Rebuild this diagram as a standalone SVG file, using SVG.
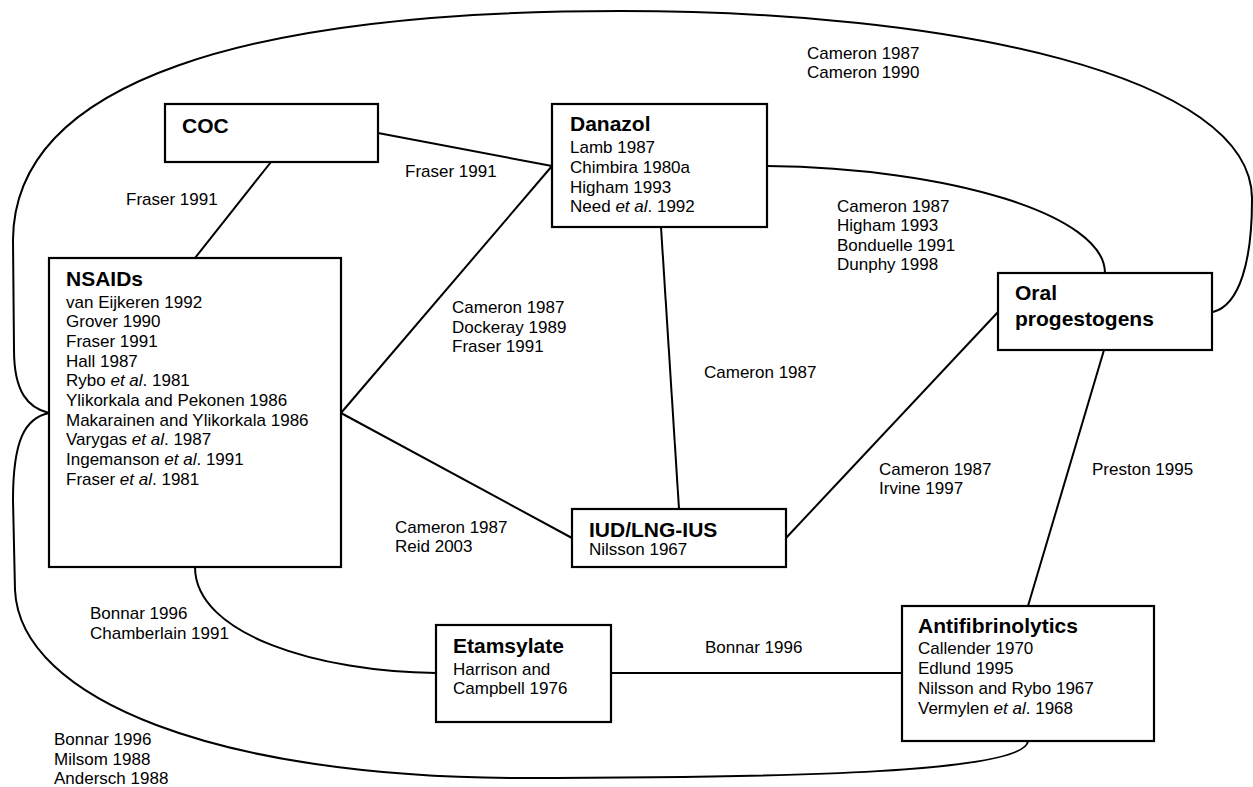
<svg xmlns="http://www.w3.org/2000/svg" width="1253" height="787" viewBox="0 0 1253 787">
<style>
.box{fill:#fff;stroke:#000;stroke-width:2.2}
.ln{fill:none;stroke:#000;stroke-width:2}
text{font-family:"Liberation Sans",Arial,sans-serif;fill:#000}
.h{font-size:21px;font-weight:bold}
.t{font-size:17px}
.i{font-style:italic}
</style>
<rect width="1253" height="787" fill="#fff"/>
<g id="connectors">
<path class="ln" d="M49,413 C28,408 14,392 14,350 L13,240 C14,80 250,11 620,11 C950,11 1254,75 1252,200 C1252,260 1240,305 1213,312"/>
<path class="ln" d="M49,413 C25,418 13,440 13,500 L15,590 C20,700 220,778 520,778 C800,778 1025,772 1028,741"/>
<line class="ln" x1="271" y1="162" x2="195" y2="258"/>
<line class="ln" x1="378" y1="133" x2="552" y2="166"/>
<line class="ln" x1="341" y1="413" x2="552" y2="166"/>
<line class="ln" x1="341" y1="413" x2="572" y2="538"/>
<line class="ln" x1="661" y1="227" x2="679" y2="509"/>
<path class="ln" d="M767,166 C950,168 1105,215 1105,273"/>
<line class="ln" x1="786" y1="538" x2="998" y2="312"/>
<line class="ln" x1="1104" y1="350" x2="1028" y2="606"/>
<line class="ln" x1="611" y1="673" x2="902" y2="673"/>
<path class="ln" d="M195,567 C195,635 320,672 436,673"/>
</g>
<g id="edge-labels" class="t">
<text x="126" y="205">Fraser 1991</text>
<text x="405" y="177">Fraser 1991</text>
<text x="807" y="59">Cameron 1987</text>
<text x="807" y="78">Cameron 1990</text>
<text x="837" y="212">Cameron 1987</text>
<text x="837" y="231">Higham 1993</text>
<text x="837" y="251">Bonduelle 1991</text>
<text x="837" y="270">Dunphy 1998</text>
<text x="452" y="313">Cameron 1987</text>
<text x="452" y="333">Dockeray 1989</text>
<text x="452" y="352">Fraser 1991</text>
<text x="704" y="378">Cameron 1987</text>
<text x="879" y="475">Cameron 1987</text>
<text x="879" y="494">Irvine 1997</text>
<text x="1092" y="475">Preston 1995</text>
<text x="395" y="533">Cameron 1987</text>
<text x="395" y="552">Reid 2003</text>
<text x="90" y="619">Bonnar 1996</text>
<text x="90" y="639">Chamberlain 1991</text>
<text x="705" y="653">Bonnar 1996</text>
<text x="54" y="745">Bonnar 1996</text>
<text x="54" y="765">Milsom 1988</text>
<text x="54" y="784">Andersch 1988</text>
</g>
<g id="coc">
<rect class="box" x="165" y="104" width="213" height="58"/>
<text class="h" x="182" y="133">COC</text>
</g>
<g id="danazol">
<rect class="box" x="552" y="104" width="215" height="123"/>
<text class="h" x="570" y="131">Danazol</text>
<text class="t" x="570" y="153">Lamb 1987</text>
<text class="t" x="570" y="173">Chimbira 1980a</text>
<text class="t" x="570" y="193">Higham 1993</text>
<text class="t" x="570" y="212">Need <tspan class="i">et al</tspan>. 1992</text>
</g>
<g id="nsaids">
<rect class="box" x="49" y="258" width="292" height="309"/>
<text class="h" x="66" y="286">NSAIDs</text>
<text class="t" x="66" y="308">van Eijkeren 1992</text>
<text class="t" x="66" y="327">Grover 1990</text>
<text class="t" x="66" y="347">Fraser 1991</text>
<text class="t" x="66" y="367">Hall 1987</text>
<text class="t" x="66" y="386">Rybo <tspan class="i">et al</tspan>. 1981</text>
<text class="t" x="66" y="406">Ylikorkala and Pekonen 1986</text>
<text class="t" x="66" y="426">Makarainen and Ylikorkala 1986</text>
<text class="t" x="66" y="445">Varygas <tspan class="i">et al</tspan>. 1987</text>
<text class="t" x="66" y="465">Ingemanson <tspan class="i">et al</tspan>. 1991</text>
<text class="t" x="66" y="485">Fraser <tspan class="i">et al</tspan>. 1981</text>
</g>
<g id="oral">
<rect class="box" x="998" y="273" width="214" height="77"/>
<text class="h" x="1015" y="300">Oral</text>
<text class="h" x="1015" y="326">progestogens</text>
</g>
<g id="iud">
<rect class="box" x="572" y="509" width="214" height="58"/>
<text class="h" x="589" y="537">IUD/LNG-IUS</text>
<text class="t" x="589" y="555">Nilsson 1967</text>
</g>
<g id="etamsylate">
<rect class="box" x="436" y="625" width="175" height="97"/>
<text class="h" x="453" y="653">Etamsylate</text>
<text class="t" x="453" y="675">Harrison and</text>
<text class="t" x="453" y="694">Campbell 1976</text>
</g>
<g id="antifibrinolytics">
<rect class="box" x="902" y="606" width="252" height="135"/>
<text class="h" x="918" y="633">Antifibrinolytics</text>
<text class="t" x="918" y="654">Callender 1970</text>
<text class="t" x="918" y="674">Edlund 1995</text>
<text class="t" x="918" y="694">Nilsson and Rybo 1967</text>
<text class="t" x="918" y="714">Vermylen <tspan class="i">et al</tspan>. 1968</text>
</g>
</svg>
